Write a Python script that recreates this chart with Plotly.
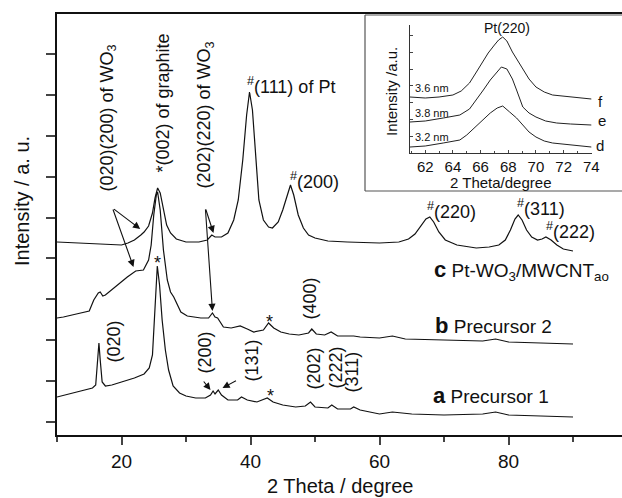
import plotly.graph_objects as go

# ---------------- data ----------------
# trace c : Pt-WO3/MWCNTao
c_x = [10, 14, 18, 20, 21, 22, 23, 23.5, 24.2, 24.8, 25.2, 25.6, 26.0, 26.5, 27, 27.6, 28.5, 30, 32,
       33.3, 34.0, 34.5, 35.5, 36.5, 37.4, 38.1, 38.8, 39.4, 39.85, 40.3, 40.8, 41.3, 42.0, 42.8, 43.4,
       44.3, 45.0, 45.7, 46.2, 46.7, 47.4, 48.2, 49, 50, 52, 55, 60, 63, 64.5, 65.5, 66.4, 67.2, 67.8,
       68.4, 69.2, 70.2, 72, 75, 77, 78.5, 79.5, 80.3, 81.0, 81.5, 82.1, 82.8, 83.6, 84.5, 85.2, 85.8,
       86.6, 87.5, 88.5, 90]
c_y = [193, 192, 191, 190, 192, 195, 200, 203, 209, 222, 237, 247, 242, 225, 210, 202, 196, 193, 193,
       195, 200, 198, 198, 202, 215, 235, 275, 320, 343, 325, 275, 235, 215, 208, 207,
       213, 225, 240, 250, 240, 220, 207, 200, 197, 194, 193, 192, 193, 196, 201, 209, 216, 218,
       213, 203, 195, 190, 187, 188, 190, 195, 205, 216, 220, 215, 205, 198, 195, 196, 198,
       195, 190, 186, 184]

# trace b : Precursor 2
b_x = [10, 11, 13, 15, 15.7, 16.4, 16.7, 17.1, 17.5, 19, 20.9, 22.2, 23.4, 24.2, 24.6, 25.0, 25.4, 25.6,
       26.0, 26.5, 27.1, 27.6, 28.1, 29.2, 30.2, 32.3, 33.5, 34.1, 34.5, 34.9, 35.8, 37, 38.4, 39.5,
       40.5, 42.0, 42.8, 43.6, 44.7, 46, 47.5, 49.0, 49.5, 50.2, 51.5, 52.5, 53.5, 56, 57, 60, 62, 64,
       70, 76, 78, 80, 85, 90]
b_y = [117, 118, 121, 124, 135, 142, 143, 139, 140, 148, 158, 164, 165, 175, 190, 220, 240, 243,
       225, 185, 155, 143, 138, 123, 119, 117, 117, 122, 118, 117, 108, 107, 109, 106,
       103, 105, 112, 107, 103, 101, 100, 102, 106, 101, 100, 103, 99, 99, 98, 97, 99, 96,
       95, 94, 96, 93, 92, 91]

# trace a : Precursor 1
a_x = [10, 12, 14, 15.5, 16.0, 16.3, 16.5, 16.7, 17.0, 17.5, 18.5, 20, 22, 23.5, 24.3, 24.8, 25.2, 25.55,
       25.9, 26.3, 26.8, 27.3, 28, 29, 30, 31.5, 33, 33.8, 34.2, 34.5, 35.0, 35.5, 36.5, 38, 38.6, 39.5,
       41, 42.6, 43.5, 45, 47, 48.5, 49.3, 50, 52, 52.6, 53.5, 55.5, 56, 57, 60, 62, 65, 70, 76, 78,
       80, 85, 90]
a_y = [38, 41, 44, 47, 50, 75, 92, 75, 53, 49, 50, 53, 57, 61, 67, 80, 125, 169,
       150, 115, 85, 65, 49, 42, 39, 37, 37, 40, 44, 41, 45, 40, 35, 35, 38, 35,
       33, 37, 33, 30, 28, 29, 33, 28, 27, 30, 26, 26, 28, 25, 21, 23, 21, 20, 21, 23,
       20, 19, 18]

# inset: Pt(220) region
f_x = [60.9, 62, 63, 64, 64.6, 65.2, 65.7, 66.1, 66.55, 67.0, 67.3, 67.6, 67.9, 68.3, 68.7, 69.05, 69.5,
       70.0, 70.6, 71.2, 72.6, 74.0]
f_y = [56, 55, 56, 58, 62, 70, 81, 90, 100, 108, 113, 116, 112, 101, 92, 83, 74, 66, 61, 58, 56, 54]
e_x = [60.9, 62, 63.3, 64.5, 65.2, 65.7, 66.2, 66.7, 67.1, 67.5, 67.9, 68.3, 68.6, 69.05, 69.5, 70.0,
       70.7, 71.5, 72.5, 74.0]
e_y = [31, 32, 35, 38, 44, 53, 63, 73, 80, 86, 84, 74, 63, 46, 40, 36, 32, 30, 29, 28]
d_x = [60.9, 62, 63.3, 64.5, 65.0, 65.6, 66.2, 66.7, 67.2, 67.6, 68.1, 68.6, 69.05, 69.5, 70.0, 70.6,
       71.2, 72.5, 74.0]
d_y = [6, 7, 10, 13, 18, 26, 33, 40, 45, 47, 41, 35, 28, 21, 16, 12, 10, 8, 6]

main_tickvals = [20, 40, 60, 80]
inset_tickvals = [62, 64, 66, 68, 70, 72, 74]

FONT = "Liberation Sans, Arial, sans-serif"
BLACK = "#111"

fig = go.Figure()
for xs, ys in [(c_x, c_y), (b_x, b_y), (a_x, a_y)]:
    fig.add_trace(go.Scatter(x=xs, y=ys, mode="lines", line=dict(color=BLACK, width=1.2),
                             showlegend=False, hoverinfo="skip"))
for xs, ys in [(f_x, f_y), (e_x, e_y), (d_x, d_y)]:
    fig.add_trace(go.Scatter(x=xs, y=ys, mode="lines", line=dict(color="#222", width=1),
                             xaxis="x2", yaxis="y2", showlegend=False, hoverinfo="skip"))

L, R, T, B = 57, 0, 14, 63
W, H = 622, 498
PW, PH = W - L - R, H - T - B


def px(x):
    return (x - L) / PW


def py(y):
    return (H - B - y) / PH


fig.update_layout(
    width=W, height=H, margin=dict(l=L, r=R, t=T, b=B, autoexpand=False),
    paper_bgcolor="white", plot_bgcolor="white",
    font=dict(family=FONT, color=BLACK),
    xaxis=dict(range=[10, 10 + PW / 6.45], tickvals=main_tickvals, ticks="outside", ticklen=8,
               tickwidth=1.5, showline=True, linewidth=1.8, linecolor=BLACK, mirror=True,
               showgrid=False, zeroline=False, tickfont=dict(size=19), automargin=False,
               minor=dict(tickvals=[10, 30, 50, 70, 90], ticks="outside", ticklen=5, tickwidth=1.5)),
    yaxis=dict(range=[0, PH], tick0=13, dtick=40.9, ticks="outside", ticklen=9, tickwidth=1.5,
               showticklabels=False, showline=True, linewidth=1.8, linecolor=BLACK,
               showgrid=False, zeroline=False, automargin=False),
    xaxis2=dict(domain=[px(410), px(592)], anchor="y2", range=[60.9, 74.05], tickvals=inset_tickvals,
                ticks="inside", ticklen=3, tickwidth=1, showline=True, linewidth=1, linecolor="#333",
                showgrid=False, zeroline=False, tickfont=dict(size=15), automargin=False,
                minor=dict(tickvals=[61, 63, 65, 67, 69, 71, 73], ticks="inside", ticklen=2)),
    yaxis2=dict(domain=[py(153), py(25)], anchor="x2", range=[0, 128], tick0=0, dtick=16.8,
                ticks="inside", ticklen=3, tickwidth=1, showticklabels=False, showline=True,
                linewidth=1, linecolor="#333", showgrid=False, zeroline=False, automargin=False),
)

# inset frame: left, top and bottom sides (the right side runs off the page, as in the original)
frame = dict(color="#555", width=1.2)
for (x0, y0, x1, y1) in [(365, 15, 365, 191), (365, 15, 640, 15), (365, 191, 640, 191)]:
    fig.add_shape(type="line", xref="paper", yref="paper", x0=px(x0), y0=py(y0), x1=px(x1), y1=py(y1),
                  line=frame, layer="below")

ann = []


def txt(x, y, s, size=18, angle=0, xanchor="center", xref="x", yref="y", **kw):
    ann.append(dict(x=x, y=y, text=s, showarrow=False, textangle=angle, xanchor=xanchor,
                    yanchor="middle", xref=xref, yref=yref,
                    font=dict(size=size, family=FONT, color=BLACK), **kw))


def arrow(x0, y0, x1, y1):
    ann.append(dict(x=x1, y=y1, ax=x0, ay=y0, xref="x", yref="y", axref="x", ayref="y", text="",
                    showarrow=True, arrowhead=2, arrowsize=1.3, arrowwidth=1.1, arrowcolor=BLACK))


# axis titles
txt(px(340), py(486), "2 Theta / degree", size=20, xref="paper", yref="paper")
txt(px(22), py(201), "Intensity / a. u.", size=20, angle=-90, xref="paper", yref="paper")

# trace c labels
txt(17.83, 317, "(020)(200) of WO<sub>3</sub>", angle=-90)
txt(26.36, 332, "*(002) of graphite", angle=-90)
txt(33.02, 320, "(202)(220) of WO<sub>3</sub>", angle=-90)
txt(39.22, 350, "<sup>#</sup>(111) of Pt", xanchor="left")
txt(45.74, 255, "<sup>#</sup>(200)", xanchor="left")
txt(67.13, 225, "<sup>#</sup>(220)", xanchor="left")
txt(81.08, 228, "<sup>#</sup>(311)", xanchor="left")
txt(85.43, 205, "<sup>#</sup>(222)", xanchor="left")
txt(68.2, 165, "<b><span style='font-size:22px'>c</span></b> Pt-WO<sub>3</sub>/MWCNT<sub>ao</sub>",
    size=19, xanchor="left")
txt(68.37, 110, "<b><span style='font-size:22px'>b</span></b> Precursor 2", size=19, xanchor="left")
txt(68.06, 40, "<b><span style='font-size:22px'>a</span></b> Precursor 1", size=19, xanchor="left")

# stars
txt(25.58, 172, "*", size=18)
txt(42.95, 113, "*", size=18)
txt(43.1, 39, "*", size=18)

# trace b / a hkl labels
txt(49.3, 137, "(400)", angle=-90)
txt(18.76, 93, "(020)", angle=-90)
txt(32.87, 82, "(200)", angle=-90)
txt(40.3, 75, "(131)", angle=-90)
txt(49.77, 66, "(202)", angle=-90)
txt(53.18, 67, "(222)", angle=-90)
txt(55.8, 63, "(311)", angle=-90)

# arrows
arrow(18.6, 227, 22.9, 206)
arrow(18.6, 227, 21.86, 168)
arrow(33.0, 227, 34.26, 202)
arrow(33.0, 227, 34.1, 124)
arrow(32.56, 55, 33.8, 45)
arrow(37.98, 55, 35.66, 47)

# inset texts (inside the inset axes)
for (x, y, s, size) in [(67.89, 125, "Pt(220)", 14), (62.5, 65, "3.6 nm", 11), (62.5, 40, "3.8 nm", 11),
                        (62.5, 16, "3.2 nm", 11)]:
    txt(x, y, s, size=size, xref="x2", yref="y2")
# inset texts outside the inset axes (paper positions)
for (x, y, s, size) in [(600, 101, "f", 15), (602, 121, "e", 15), (600, 145, "d", 15),
                        (500, 182, "2 Theta/degree", 15)]:
    txt(px(x), py(y), s, size=size, xref="paper", yref="paper")
txt(px(392), py(92), "Intensity /a.u.", size=15, angle=-90, xref="paper", yref="paper")

fig.update_layout(annotations=ann)
fig.write_html("out.html", config={"displayModeBar": False},
               post_script="document.body.style.margin='0';document.body.style.overflow='hidden';")
